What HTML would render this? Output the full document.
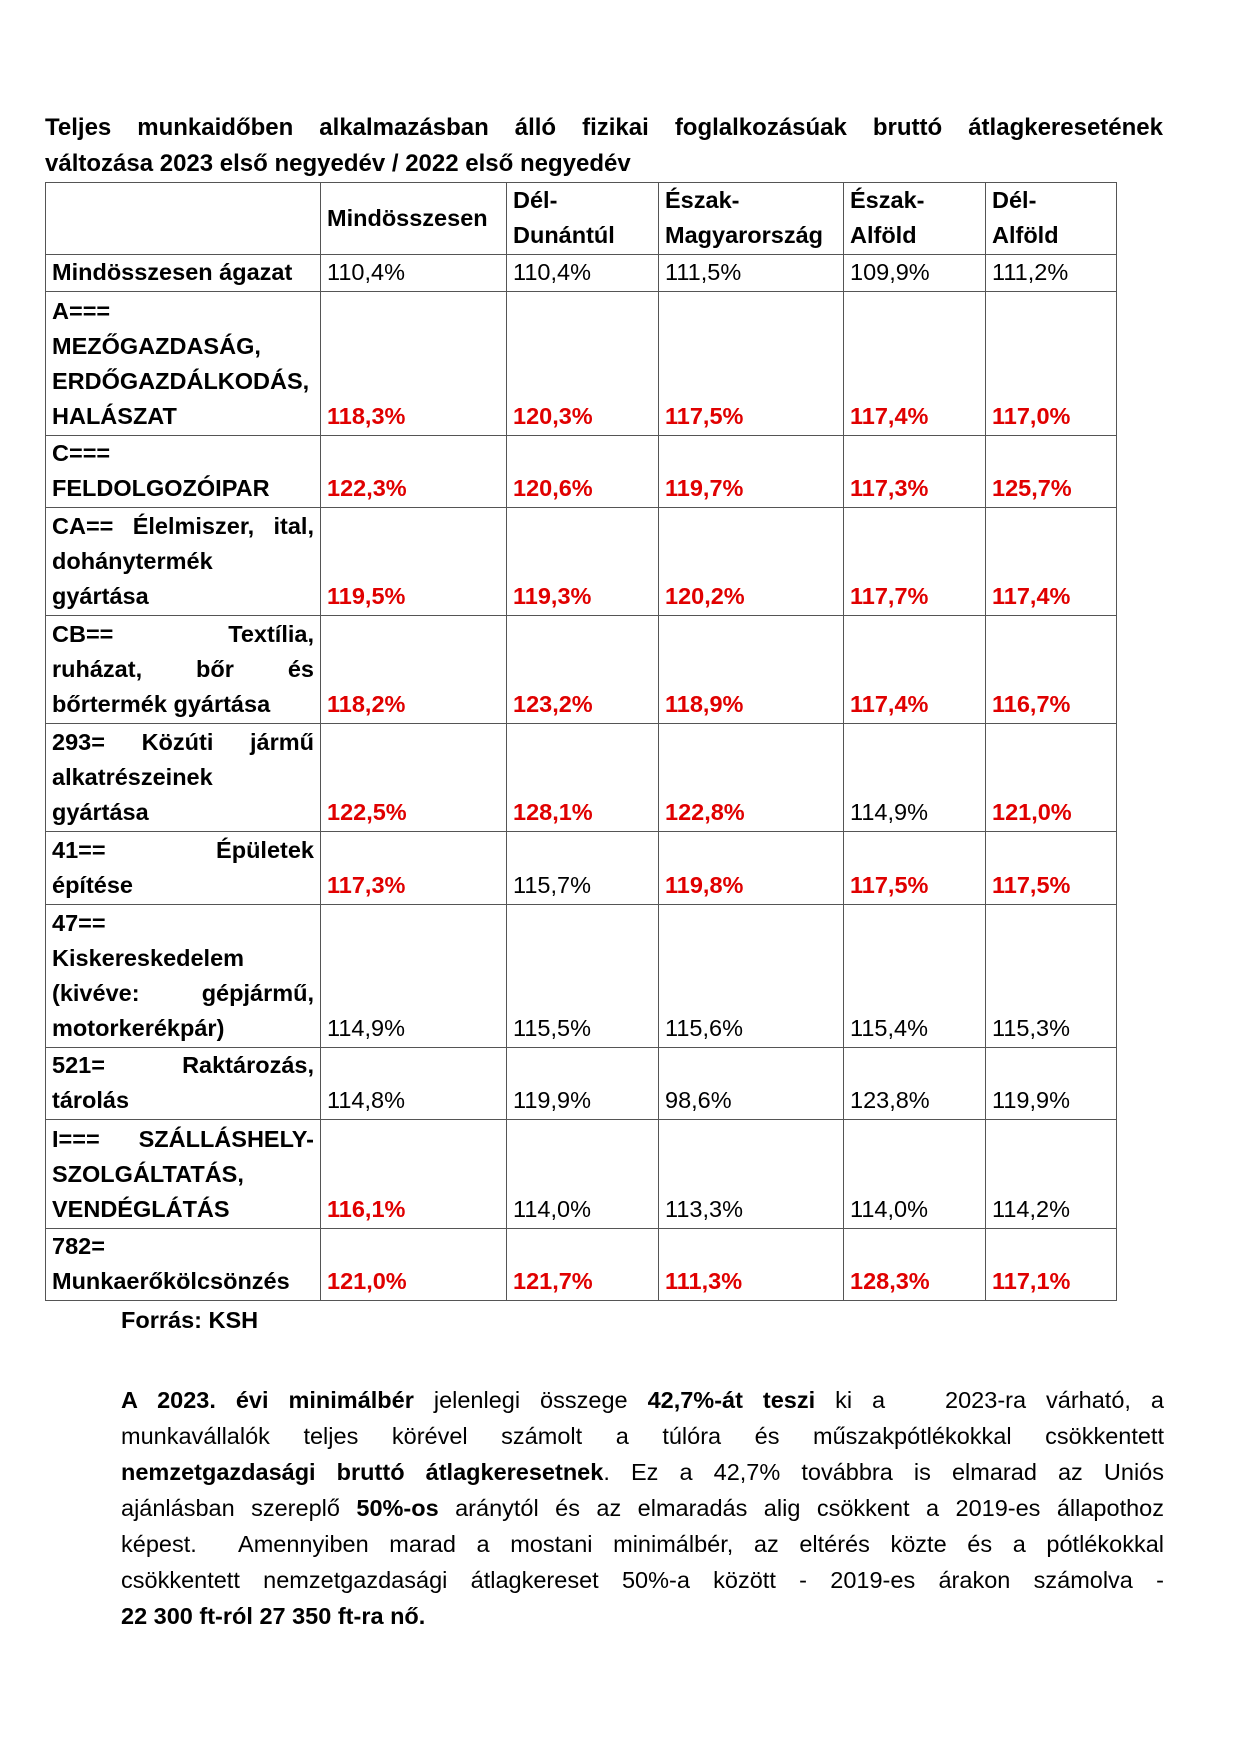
<!DOCTYPE html>
<html><head><meta charset="utf-8"><style>
body{margin:0;background:#fff;width:1241px;height:1755px;position:relative;font-family:"Liberation Sans",sans-serif;color:#000;overflow:hidden}
.t{position:absolute;font-size:24px;font-weight:bold;white-space:nowrap}
.j{text-align:justify;text-align-last:justify;white-space:nowrap}
table{position:absolute;left:45px;top:182px;border-collapse:collapse;font-size:23.5px;table-layout:fixed}
td{border:1.5px solid #555;padding:0 6px 1px 6px;vertical-align:bottom;line-height:35px;white-space:nowrap;overflow:hidden}
td.l{font-weight:bold}
.r{color:#e00000;font-weight:bold}
.p{position:absolute;left:121px;width:1043px;font-size:23.5px;line-height:36px}
.p div{height:36px}
</style></head><body>
<div class="t j" style="left:45px;width:1118px;top:114px">Teljes munkaidőben alkalmazásban álló fizikai foglalkozásúak bruttó átlagkeresetének</div>
<div class="t" style="left:45px;top:150px">változása 2023 első negyedév / 2022 első negyedév</div>
<table>
<colgroup><col style="width:275px"><col style="width:186px"><col style="width:152px"><col style="width:185px"><col style="width:142px"><col style="width:131px"></colgroup>
<tr style="height:72px"><td></td><td class="l" style="vertical-align:middle">Mindösszesen</td><td class="l">Dél-<br>Dunántúl</td><td class="l">Észak-<br>Magyarország</td><td class="l">Észak-<br>Alföld</td><td class="l">Dél-<br>Alföld</td></tr>
<tr style="height:37px"><td class="l">Mindösszesen ágazat</td><td>110,4%</td><td>110,4%</td><td>111,5%</td><td>109,9%</td><td>111,2%</td></tr>
<tr style="height:144px"><td class="l">A===<br>MEZŐGAZDASÁG,<br>ERDŐGAZDÁLKODÁS,<br>HALÁSZAT</td><td class="r">118,3%</td><td class="r">120,3%</td><td class="r">117,5%</td><td class="r">117,4%</td><td class="r">117,0%</td></tr>
<tr style="height:72px"><td class="l">C===<br>FELDOLGOZÓIPAR</td><td class="r">122,3%</td><td class="r">120,6%</td><td class="r">119,7%</td><td class="r">117,3%</td><td class="r">125,7%</td></tr>
<tr style="height:108px"><td class="l"><div class="j">CA== Élelmiszer, ital,</div>dohánytermék<br>gyártása</td><td class="r">119,5%</td><td class="r">119,3%</td><td class="r">120,2%</td><td class="r">117,7%</td><td class="r">117,4%</td></tr>
<tr style="height:108px"><td class="l"><div class="j">CB== Textília,</div><div class="j">ruházat, bőr és</div>bőrtermék gyártása</td><td class="r">118,2%</td><td class="r">123,2%</td><td class="r">118,9%</td><td class="r">117,4%</td><td class="r">116,7%</td></tr>
<tr style="height:108px"><td class="l"><div class="j">293= Közúti jármű</div>alkatrészeinek<br>gyártása</td><td class="r">122,5%</td><td class="r">128,1%</td><td class="r">122,8%</td><td>114,9%</td><td class="r">121,0%</td></tr>
<tr style="height:73px"><td class="l"><div class="j">41== Épületek</div>építése</td><td class="r">117,3%</td><td>115,7%</td><td class="r">119,8%</td><td class="r">117,5%</td><td class="r">117,5%</td></tr>
<tr style="height:143px"><td class="l">47==<br>Kiskereskedelem<br><div class="j">(kivéve: gépjármű,</div>motorkerékpár)</td><td>114,9%</td><td>115,5%</td><td>115,6%</td><td>115,4%</td><td>115,3%</td></tr>
<tr style="height:72px"><td class="l"><div class="j">521= Raktározás,</div>tárolás</td><td>114,8%</td><td>119,9%</td><td>98,6%</td><td>123,8%</td><td>119,9%</td></tr>
<tr style="height:109px"><td class="l"><div class="j">I=== SZÁLLÁSHELY-</div>SZOLGÁLTATÁS,<br>VENDÉGLÁTÁS</td><td class="r">116,1%</td><td>114,0%</td><td>113,3%</td><td>114,0%</td><td>114,2%</td></tr>
<tr style="height:72px"><td class="l">782=<br>Munkaerőkölcsönzés</td><td class="r">121,0%</td><td class="r">121,7%</td><td class="r">111,3%</td><td class="r">128,3%</td><td class="r">117,1%</td></tr>
</table>
<div class="t" style="left:121px;top:1307px;font-size:23.5px">Forrás: KSH</div>
<div class="p" style="top:1382px">
<div class="j"><b>A 2023. évi minimálbér</b> jelenlegi összege <b>42,7%-át teszi</b> ki a &nbsp; 2023-ra várható, a</div>
<div class="j">munkavállalók teljes körével számolt a túlóra és műszakpótlékokkal csökkentett</div>
<div class="j"><b>nemzetgazdasági bruttó átlagkeresetnek</b>. Ez a 42,7% továbbra is elmarad az Uniós</div>
<div class="j">ajánlásban szereplő <b>50%-os</b> aránytól és az elmaradás alig csökkent a 2019-es állapothoz</div>
<div class="j">képest. &nbsp;Amennyiben marad a mostani minimálbér, az eltérés közte és a pótlékokkal</div>
<div class="j">csökkentett nemzetgazdasági átlagkereset 50%-a között - 2019-es árakon számolva -</div>
<div><b>22 300 ft-ról 27 350 ft-ra nő.</b></div>
</div>
</body></html>
